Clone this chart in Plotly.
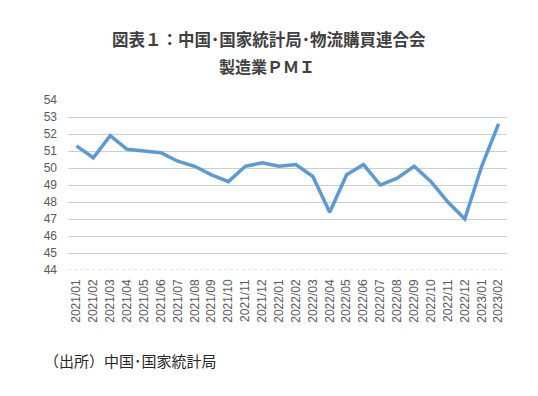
import plotly.graph_objects as go

months = ["2021/01","2021/02","2021/03","2021/04","2021/05","2021/06","2021/07","2021/08",
          "2021/09","2021/10","2021/11","2021/12","2022/01","2022/02","2022/03","2022/04",
          "2022/05","2022/06","2022/07","2022/08","2022/09","2022/10","2022/11","2022/12",
          "2023/01","2023/02"]
pmi = [51.3,50.6,51.9,51.1,51.0,50.9,50.4,50.1,49.6,49.2,50.1,50.3,50.1,50.2,49.5,47.4,
       49.6,50.2,49.0,49.4,50.1,49.2,48.0,47.0,50.1,52.6]
y_ticks = list(range(44, 55))

title_line1 = "図表１：中国･国家統計局･物流購買連合会"
title_line2 = "製造業ＰＭＩ"
source_text = "（出所）中国･国家統計局"

font_family = "Noto Sans CJK JP, Noto Sans, sans-serif"
tick_font = "Liberation Sans, Arial, sans-serif"

fig = go.Figure()
fig.add_trace(go.Scatter(x=months, y=pmi, mode="lines",
                         line=dict(color="#5b9bd5", width=3.5), hoverinfo="skip"))

fig.update_layout(
    width=538, height=396,
    margin=dict(l=60, r=39, t=92, b=134),
    paper_bgcolor="white", plot_bgcolor="white",
    showlegend=False,
    font=dict(family=font_family, color="#595959"),
    xaxis=dict(type="category", showgrid=False, showline=False, ticks="",
               tickangle=-90, tickfont=dict(size=12, family=tick_font, color="#595959"),
               ticklabelstandoff=6,
               range=[-0.5, len(months) - 0.5]),
    yaxis=dict(range=[44, 54], tickvals=y_ticks, showgrid=True, gridcolor="#c9d0c9",
               gridwidth=1, zeroline=False, showline=False, ticks="",
               tickfont=dict(size=12, family=tick_font, color="#595959"),
               ticklabelstandoff=10),
    shapes=[
        dict(type="line", xref="paper", yref="y", x0=0, x1=1, y0=44, y1=44,
             line=dict(color="white", width=2), layer="above"),
        dict(type="line", xref="paper", yref="y", x0=0, x1=1, y0=44, y1=44,
             line=dict(color="#d9c3cf", width=1, dash="dot"), layer="above"),
    ],
    annotations=[
        dict(text="<b>" + title_line1 + "</b>", xref="paper", yref="paper", x=0.476, y=1,
             xshift=-8, yshift=61, xanchor="center", yanchor="middle", showarrow=False,
             font=dict(size=16.5, color="#404040", family=font_family)),
        dict(text="<b>" + title_line2 + "</b>", xref="paper", yref="paper", x=0.476, y=1,
             xshift=-10, yshift=34, xanchor="center", yanchor="middle", showarrow=False,
             font=dict(size=16, color="#404040", family=font_family)),
        dict(text=source_text, xref="paper", yref="paper", x=0, xshift=-26, y=0, yshift=-90,
             xanchor="left", yanchor="middle", showarrow=False,
             font=dict(size=15, color="#262626", family=font_family)),
    ],
)

fig.write_html("out.html")
